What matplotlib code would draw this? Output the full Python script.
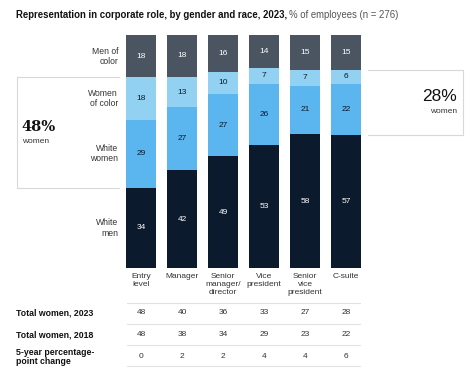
import numpy as np
import matplotlib
matplotlib.use("Agg")
import matplotlib.pyplot as plt
import matplotlib.transforms as mtransforms

# Data (bottom to top within each bar)
roles = ["Entry\nlevel", "Manager", "Senior\nmanager/\ndirector", "Vice\npresident",
         "Senior\nvice\npresident", "C-suite"]
white_men = [34, 42, 49, 53, 58, 57]
white_women = [29, 27, 27, 26, 21, 22]
women_of_color = [18, 13, 10, 7, 7, 6]
men_of_color = [18, 18, 16, 14, 15, 15]

segment_names = ["White\nmen", "White\nwomen", "Women\nof color", "Men of\ncolor"]
segment_colors = ["#0c1a2d", "#5bb5ee", "#92d1f1", "#4a5561"]
label_colors = ["white", "#0c1a2d", "#0c1a2d", "white"]

total_women_2023 = [48, 40, 36, 33, 27, 28]
total_women_2018 = [48, 38, 34, 29, 23, 22]
change_5yr = [0, 2, 2, 4, 4, 6]
row_labels = ["Total women, 2023", "Total women, 2018", "5-year percentage-\npoint change"]

W, H = 474, 372
fig = plt.figure(figsize=(W / 100, H / 100), dpi=100)
plt.rcParams["font.family"] = ["Liberation Sans", "DejaVu Sans"]

# bar axes: centers every 41 px starting at 141 px, bars from y=35 to y=268 px
step = 41
x0 = 141
left_px = x0 - step / 2
right_px = x0 + 5.5 * step
ax = fig.add_axes([left_px / W, (H - 268) / H, (right_px - left_px) / W, (268 - 35) / H])
ax.set_xlim(-0.5, 5.5)
ax.set_ylim(0, 100)
ax.axis("off")

series = np.array([white_men, white_women, women_of_color, men_of_color], dtype=float)
shares = series / series.sum(axis=0) * 100  # bars drawn at full height
x = np.arange(len(roles))
bottom = np.zeros(len(roles))
for k in range(4):
    ax.bar(x, shares[k], bottom=bottom, width=0.71, color=segment_colors[k], linewidth=0)
    for i in range(len(roles)):
        ax.text(x[i], bottom[i] + shares[k][i] / 2, str(int(series[k][i])), ha="center", va="center",
                fontsize=6, color=label_colors[k])
    # row labels on the left next to the first bar
    ax.text(-0.56, bottom[0] + shares[k][0] / 2, segment_names[k], ha="right", va="center",
            fontsize=6.2, color="#333333", linespacing=1.15)
    bottom += shares[k]

# boxes around the women segments of the first and last bar
box_col = "#d8d8d8"
lo0 = shares[0][0]
hi0 = shares[0][0] + shares[1][0] + shares[2][0]
lx0, lx1 = (17 - x0) / step, (119 - x0) / step
ax.plot([lx1, lx0, lx0, lx1], [hi0, hi0, lo0, lo0], color=box_col, lw=0.8, clip_on=False)
ax.text((21 - x0) / step, (lo0 + hi0) / 2 + 2.5, "48%", fontsize=10.5, family="DejaVu Serif",
        fontweight="bold", ha="left", va="center", color="#111111")
ax.text((22 - x0) / step, (lo0 + hi0) / 2 - 4, "women", fontsize=6, ha="left", va="center",
        color="#333333")

lo5 = shares[0][5]
hi5 = shares[0][5] + shares[1][5] + shares[2][5]
rx0, rx1 = (368 - x0) / step, (463 - x0) / step
ax.plot([rx0, rx1, rx1, rx0], [hi5, hi5, lo5, lo5], color=box_col, lw=0.8, clip_on=False)
ax.text((457 - x0) / step, (lo5 + hi5) / 2 + 2.5, "28%", fontsize=12.5,
        ha="right", va="center", color="#111111")
ax.text((457 - x0) / step, (lo5 + hi5) / 2 - 4, "women", fontsize=6, ha="right", va="center",
        color="#333333")

# category labels and table below the bars (x in data, y in figure fraction)
trans = mtransforms.blended_transform_factory(ax.transData, fig.transFigure)
for i, r in enumerate(roles):
    ax.text(x[i], 1 - 272.5 / H, r, transform=trans, ha="center", va="top", fontsize=6,
            color="#333333", linespacing=1.3)

row_y = [313, 335, 357]
rows = [total_women_2023, total_women_2018, change_5yr]
for ry, vals, lab in zip(row_y, rows, row_labels):
    fig.text(16 / W, 1 - ry / H, lab, ha="left", va="center", fontsize=6.3, fontweight="bold",
             color="#111111", linespacing=1.0)
    for i, v in enumerate(vals):
        ax.text(x[i], 1 - ry / H, str(v), transform=trans, ha="center", va="center",
                fontsize=6, color="#333333")

for ly in [303, 324, 345, 366]:
    ax.plot([-0.35, 5.35], [1 - ly / H] * 2, transform=trans, color="#e2e2e2", lw=0.8,
            clip_on=False)

# title
t1 = fig.text(16 / W, 1 - 15 / H, "Representation in corporate role, by gender and race, 2023,",
              fontsize=6.9, fontweight="bold", color="#111111", va="center", ha="left")
fig.canvas.draw()
bb = t1.get_window_extent()
fig.text((bb.x1 + 2) / W, 1 - 15 / H, "% of employees (n = 276)", fontsize=6.9,
         color="#555555", va="center", ha="left")

fig.savefig("out.png", dpi=100)
